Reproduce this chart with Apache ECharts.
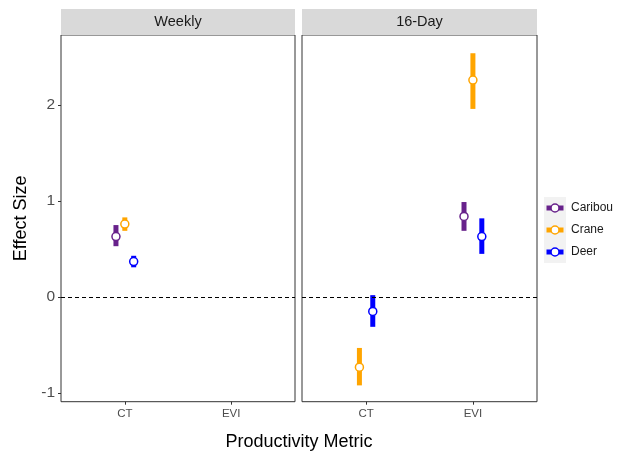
<!DOCTYPE html>
<html>
<head>
<meta charset="utf-8">
<script src="https://cdn.jsdelivr.net/npm/echarts@6/dist/echarts.min.js"></script>
<style>html,body{margin:0;padding:0;background:#fff}#c{width:625px;height:455px}</style>
</head>
<body>
<div id="c"></div>
<script>
// ---- data ----
const panels = ['Weekly', '16-Day'];
const categories = ['CT', 'EVI'];
const species = ['Caribou', 'Crane', 'Deer'];
const speciesColors = ['#68228B', '#FFA500', '#0000FF'];
const yTicks = [-1, 0, 1, 2];

const obsPanel   = ['Weekly', 'Weekly', 'Weekly', '16-Day', '16-Day', '16-Day', '16-Day', '16-Day'];
const obsMetric  = ['CT', 'CT', 'CT', 'CT', 'CT', 'EVI', 'EVI', 'EVI'];
const obsSpecies = ['Caribou', 'Crane', 'Deer', 'Crane', 'Deer', 'Caribou', 'Crane', 'Deer'];
const obsMean    = [0.63, 0.76, 0.37, -0.73, -0.15, 0.84, 2.26, 0.63];
const obsLower   = [0.53, 0.69, 0.31, -0.92, -0.31, 0.69, 1.96, 0.45];
const obsUpper   = [0.75, 0.83, 0.43, -0.53, 0.02, 0.99, 2.54, 0.82];

// ---- dodge (ggplot position_dodge, width 0.25) ----
const dodgeWidth = 0.25;
function dodgedX(i) {
  const grp = [];
  for (let j = 0; j < obsPanel.length; j++) {
    if (obsPanel[j] === obsPanel[i] && obsMetric[j] === obsMetric[i]) grp.push(j);
  }
  grp.sort((a, b) => species.indexOf(obsSpecies[a]) - species.indexOf(obsSpecies[b]));
  const n = grp.length, k = grp.indexOf(i);
  const base = categories.indexOf(obsMetric[i]) + 1;
  return base - dodgeWidth / 2 + dodgeWidth / (2 * n) + k * dodgeWidth / n;
}

function makeRender(color) {
  return function (params, api) {
    const x = api.value(0);
    const top = api.coord([x, api.value(3)]);
    const bot = api.coord([x, api.value(2)]);
    const mid = api.coord([x, api.value(1)]);
    return {
      type: 'group',
      children: [
        { type: 'rect', shape: { x: top[0] - 2.5, y: top[1], width: 5, height: bot[1] - top[1] }, style: { fill: color } },
        { type: 'circle', shape: { cx: mid[0], cy: mid[1], r: 4 }, style: { fill: '#fff', stroke: color, lineWidth: 1.5 } }
      ]
    };
  };
}

const gridsPx = [
  { left: 61, top: 35, width: 234, height: 366.7 },
  { left: 302, top: 35, width: 235, height: 366.7 }
];

const series = [];
panels.forEach((p, pi) => {
  species.forEach((s, si) => {
    const data = [];
    for (let i = 0; i < obsPanel.length; i++) {
      if (obsPanel[i] === p && obsSpecies[i] === s) data.push([dodgedX(i), obsMean[i], obsLower[i], obsUpper[i]]);
    }
    series.push({
      name: s, type: 'custom', xAxisIndex: pi, yAxisIndex: pi,
      itemStyle: { color: speciesColors[si] },
      renderItem: makeRender(speciesColors[si]),
      encode: { x: 0, y: [1, 2, 3] },
      data: data, z: 3
    });
  });
  series.push({
    type: 'line', xAxisIndex: pi, yAxisIndex: pi, data: [], silent: true,
    markLine: { silent: true, symbol: 'none', label: { show: false },
      lineStyle: { color: '#000', type: [4, 3], width: 1 }, data: [{ yAxis: 0 }] }
  });
});

function keyIcon(color) {
  const svg = '<svg xmlns="http://www.w3.org/2000/svg" width="22" height="22">' +
    '<rect x="0" y="0" width="22" height="22" fill="#f2f2f2"/>' +
    '<rect x="2.5" y="8.5" width="17" height="5" fill="' + color + '"/>' +
    '<circle cx="11" cy="11" r="4" fill="#fff" stroke="' + color + '" stroke-width="1.5"/></svg>';
  return 'image://data:image/svg+xml;charset=utf-8,' + encodeURIComponent(svg);
}

const xAxes = panels.map((p, pi) => ({
  type: 'value', gridIndex: pi, min: 0.4, max: 2.6,
  axisLine: { show: false, onZero: false },
  splitLine: { show: false },
  axisTick: { show: true, customValues: [1, 2], length: 3, lineStyle: { color: '#333' } },
  axisLabel: { customValues: [1, 2], formatter: v => categories[Math.round(v) - 1], color: '#4d4d4d',
    fontSize: 11.5, fontFamily: 'Liberation Sans', margin: 6 }
}));
const yAxes = panels.map((p, pi) => ({
  type: 'value', gridIndex: pi, min: -1.09, max: 2.73,
  axisLine: { show: false, onZero: false },
  splitLine: { show: false },
  axisTick: { show: pi === 0, customValues: yTicks, length: 3, lineStyle: { color: '#333' } },
  axisLabel: { show: pi === 0, customValues: yTicks, color: '#4d4d4d', fontSize: 15.5, fontFamily: 'Liberation Sans', margin: 6 },
  name: pi === 0 ? 'Effect Size' : '', nameLocation: 'middle', nameGap: 31,
  nameTextStyle: { color: '#000', fontSize: 18, fontFamily: 'Liberation Sans' }
}));

const graphic = [];
panels.forEach((p, pi) => {
  const g = gridsPx[pi];
  graphic.push({ type: 'rect', left: g.left, top: 9, shape: { width: g.width, height: 26 }, style: { fill: '#d9d9d9' }, silent: true });
  graphic.push({ type: 'text', x: g.left + g.width / 2, y: 22, style: { text: p, fill: '#1a1a1a', fontSize: 14.5,
    fontFamily: 'Liberation Sans', align: 'center', verticalAlign: 'middle' } });
});
graphic.push({ type: 'text', x: 299, y: 442, style: { text: 'Productivity Metric', fill: '#000', fontSize: 18,
  fontFamily: 'Liberation Sans', align: 'center', verticalAlign: 'middle' } });

const chart = echarts.init(document.getElementById('c'), null, { renderer: 'canvas' });
chart.setOption({
  animation: false,
  backgroundColor: '#fff',
  grid: gridsPx.map(g => Object.assign({ show: true, borderColor: '#333', borderWidth: 1, backgroundColor: '#fff' }, g)),
  xAxis: xAxes,
  yAxis: yAxes,
  legend: {
    orient: 'vertical', left: 544, top: 197, padding: 0, itemWidth: 22, itemHeight: 22, itemGap: 0,
    data: species.map((s, si) => ({ name: s, icon: keyIcon(speciesColors[si]) })),
    textStyle: { color: '#1a1a1a', fontSize: 12, fontFamily: 'Liberation Sans' }
  },
  graphic: graphic,
  series: series
});
</script>
</body>
</html>
